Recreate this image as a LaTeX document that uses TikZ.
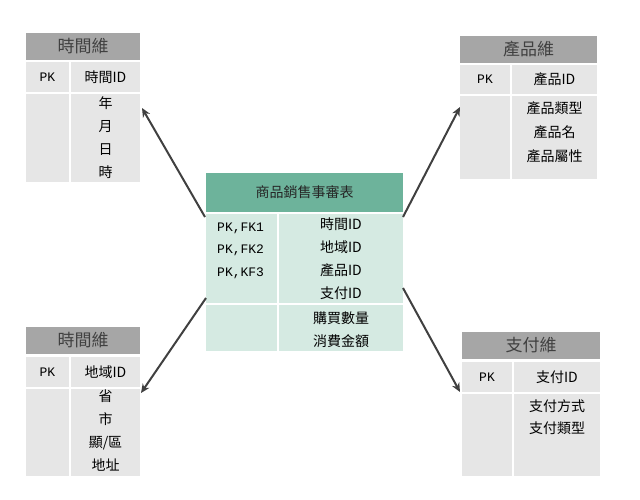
\documentclass[tikz,border=0pt]{standalone}
\usepackage{fontspec}
\setmainfont{Noto Sans CJK TC}
\setmonofont{Liberation Mono}
\usetikzlibrary{arrows.meta}

\definecolor{dimhead}{HTML}{A6A6A6}
\definecolor{dimcell}{HTML}{E6E6E6}
\definecolor{facthead}{HTML}{6DB39B}
\definecolor{factcell}{HTML}{D5EAE2}
\definecolor{linkgray}{HTML}{404040}

\tikzset{
	box/.style={anchor=north west, inner sep=0pt, outer sep=0pt},
	dimhdr/.style={box, fill=dimhead, text=black!75, font=\fontsize{17}{17}\selectfont},
	dimcol/.style={box, fill=dimcell, font=\fontsize{14}{14}\selectfont},
	facthdr/.style={box, fill=facthead, text=black!85, font=\fontsize{14}{14}\selectfont},
	factcol/.style={box, fill=factcell, font=\fontsize{14}{14}\selectfont},
	pktext/.style={font=\ttfamily\fontsize{13}{13}\selectfont},
	lines/.style={inner sep=0pt, align=center, font=\fontsize{14}{#1}\selectfont},
	link/.style={draw=linkgray, line width=2pt, -{Stealth[length=9pt,width=8pt]}}
}

\begin{document}
\begin{tikzpicture}[x=1pt, y=-1pt]
	\useasboundingbox (0, 0) rectangle (640, 499);
	
	% time dimension
	\node[dimhdr, minimum width=114, minimum height=27] (thead) at (26, 33) {時間維};
	\node[dimcol, minimum width=43, minimum height=30, pktext] (tpkl) at (26, 62) {PK};
	\node[dimcol, minimum width=69, minimum height=30] (tpkr) at (71, 62) {時間ID};
	\node[dimcol, minimum width=43, minimum height=88] (tbodyl) at (26, 94) {};
	\node[dimcol, minimum width=69, minimum height=88] (tbodyr) at (71, 94) {};
	\node[lines=23.3, anchor=north] (tattr) at ([yshift=-2]tbodyr.north) {年\\月\\日\\時};
	
	% product dimension
	\node[dimhdr, minimum width=137, minimum height=27] (phead) at (460, 36) {產品維};
	\node[dimcol, minimum width=50, minimum height=29, pktext] (ppkl) at (460, 65) {PK};
	\node[dimcol, minimum width=85, minimum height=29] (ppkr) at (512, 65) {產品ID};
	\node[dimcol, minimum width=50, minimum height=83] (pbodyl) at (460, 96) {};
	\node[dimcol, minimum width=85, minimum height=83] (pbodyr) at (512, 96) {};
	\node[lines=24, anchor=north] (pattr) at ([yshift=-5]pbodyr.north) {產品類型\\產品名\\產品屬性};
	
	% region dimension
	\node[dimhdr, minimum width=114, minimum height=27] (rhead) at (26, 327) {時間維};
	\node[dimcol, minimum width=43, minimum height=30, pktext] (rpkl) at (26, 357) {PK};
	\node[dimcol, minimum width=69, minimum height=30] (rpkr) at (71, 357) {地域ID};
	\node[dimcol, minimum width=43, minimum height=87] (rbodyl) at (26, 389) {};
	\node[dimcol, minimum width=69, minimum height=87] (rbodyr) at (71, 389) {};
	\node[lines=23, anchor=north] (rattr) at ([yshift=-1]rbodyr.north) {省\\市\\顯/區\\地址};
	
	% payment dimension
	\node[dimhdr, minimum width=138, minimum height=27] (yhead) at (462, 332) {支付維};
	\node[dimcol, minimum width=50, minimum height=30, pktext] (ypkl) at (462, 362) {PK};
	\node[dimcol, minimum width=86, minimum height=30] (ypkr) at (514, 362) {支付ID};
	\node[dimcol, minimum width=50, minimum height=82] (ybodyl) at (462, 394) {};
	\node[dimcol, minimum width=86, minimum height=82] (ybodyr) at (514, 394) {};
	\node[lines=22, anchor=north] (yattr) at ([yshift=-5]ybodyr.north) {支付方式\\支付類型};
	
	% fact table
	\node[facthdr, minimum width=197, minimum height=39] (fhead) at (206, 173) {商品銷售事審表};
	\node[factcol, minimum width=71, minimum height=89] (fkeyl) at (206, 214) {};
	\node[factcol, minimum width=124, minimum height=89] (fkeyr) at (279, 214) {};
	\node[factcol, minimum width=71, minimum height=46] (fmeal) at (206, 305) {};
	\node[factcol, minimum width=124, minimum height=46] (fmear) at (279, 305) {};
	\node[pktext, inner sep=0pt, align=left, anchor=north west, font=\ttfamily\fontsize{13}{22.6}\selectfont] (fpk) at ([shift={(11,8.5)}]fkeyl.north west) {PK,FK1\\PK,FK2\\PK,KF3};
	\node[lines=22.7, anchor=north] (fkeys) at ([yshift=-4]fkeyr.north) {時間ID\\地域ID\\產品ID\\支付ID};
	\node[lines=23, anchor=north] (fmeas) at ([yshift=-7]fmear.north) {購買數量\\消費金額};
	
	% links
	\draw[link] ([shift={(-1,3)}]fkeyl.north west) -- ([shift={(2,14)}]tbodyr.north east);
	\draw[link] ([yshift=-3]fkeyr.north east) -- ([yshift=-11]pbodyl.north west);
	\draw[link] ([yshift=5]fkeyl.south west) -- ([shift={(1,4)}]rbodyr.north east);
	\draw[link] ([yshift=15]fkeyr.south east) -- ([xshift=-2]ypkl.south west);
\end{tikzpicture}
\end{document}
